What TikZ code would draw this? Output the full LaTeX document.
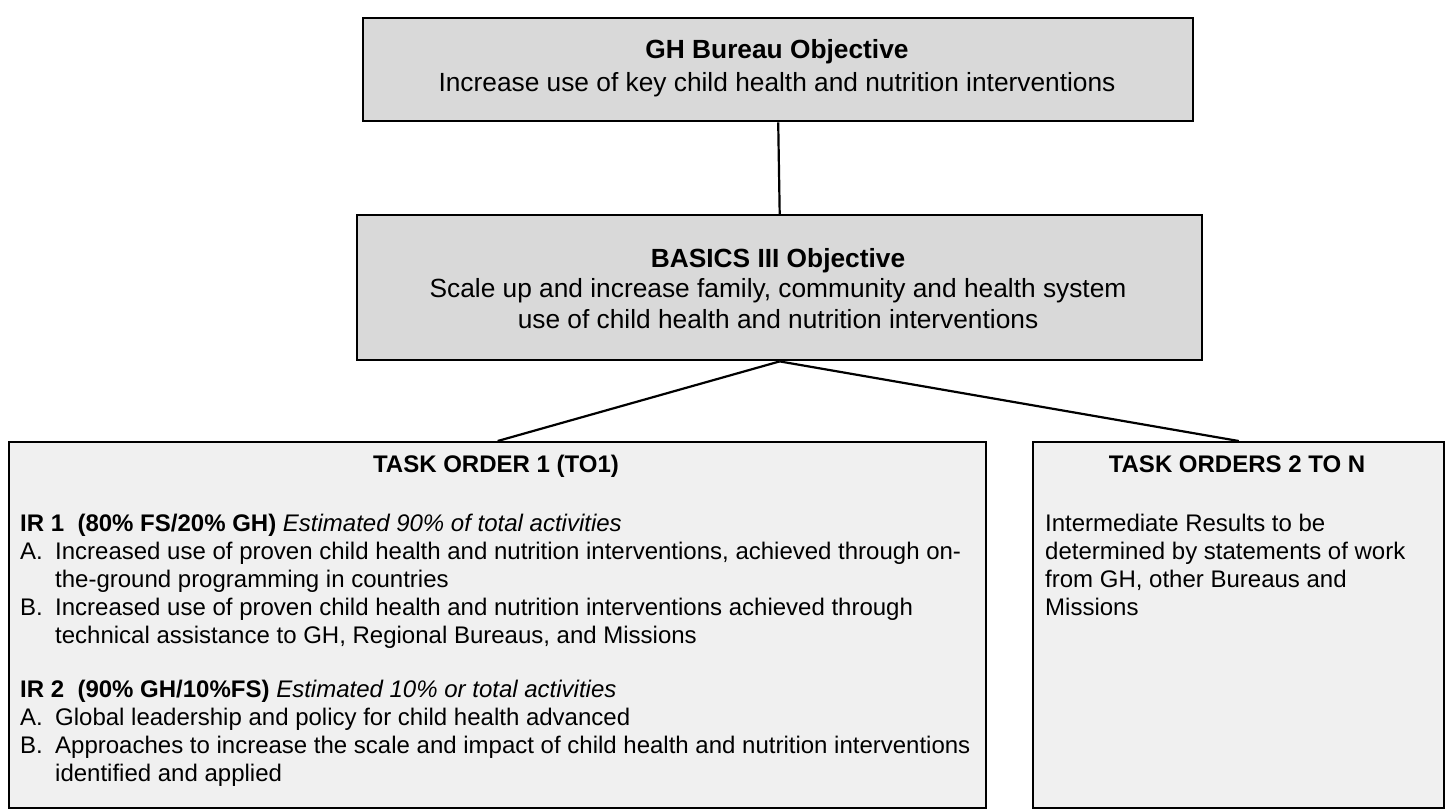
\documentclass[tikz,border=0pt]{standalone}
\usepackage{fontspec}
\setmainfont{Liberation Sans}
\newcommand\myfs{\fontsize{24}{28}\selectfont}
\newcommand\bigfs{\fontsize{26.3}{30}\selectfont}
\definecolor{topfill}{gray}{0.85}
\definecolor{botfill}{gray}{0.94}
\begin{document}
\begin{tikzpicture}[x=1pt,y=-1pt,
  box/.style={draw, line width=2.4pt, inner sep=0pt, anchor=north west},
  conn/.style={line width=2.2pt},
  txt/.style={font=\myfs, inner sep=0pt},
  ttl/.style={font=\myfs\bfseries, inner sep=0pt, anchor=base},
  btxt/.style={font=\bigfs, inner sep=0pt, anchor=base},
  bttl/.style={font=\bigfs\bfseries, inner sep=0pt, anchor=base}]
\useasboundingbox (0,0) rectangle (1448,809);
% boxes
\node[box, fill=topfill, minimum width=830pt, minimum height=103pt] (gh) at (362,17) {};
\node[box, fill=topfill, minimum width=845pt, minimum height=145pt] (basics) at (356,214) {};
\node[box, fill=botfill, minimum width=977pt, minimum height=366pt] (to1) at (8,441) {};
\node[box, fill=botfill, minimum width=411pt, minimum height=366pt] (ton) at (1032,441) {};
% connectors
\draw[conn] (gh.south) -- (basics.north);
\draw[conn] (basics.south) -- (to1.north);
\draw[conn] (basics.south) -- (ton.north);
% top box text
\node[bttl] (ghT) at (777,58) {GH Bureau Objective};
\node[btxt] (ghS) at (777,91) {Increase use of key child health and nutrition interventions};
% second box text
\node[bttl] (bT) at (778,267) {BASICS III Objective};
\node[btxt] (bS1) at (778,297) {Scale up and increase family, community and health system};
\node[btxt] (bS2) at (778,328) {use of child health and nutrition interventions};
% task order 1
\node[ttl] (t1T) at (496,472) {TASK ORDER 1 (TO1)};
\node[txt, anchor=base west] (ir1) at (20,531) {\textbf{IR 1\ \ (80\% FS/20\% GH)} \textit{Estimated 90\% of total activities}};
\node[txt, anchor=base west] (ir1aL) at (20,559) {A.};
\node[txt, anchor=base west] (ir1a) at (55,559) {Increased use of proven child health and nutrition interventions, achieved through on-};
\node[txt, anchor=base west] (ir1a2) at (55,587) {the-ground programming in countries};
\node[txt, anchor=base west] (ir1bL) at (20,615) {B.};
\node[txt, anchor=base west] (ir1b) at (55,615) {Increased use of proven child health and nutrition interventions achieved through};
\node[txt, anchor=base west] (ir1b2) at (55,643) {technical assistance to GH, Regional Bureaus, and Missions};
\node[txt, anchor=base west] (ir2) at (20,697) {\textbf{IR 2\ \ (90\% GH/10\%FS)} \textit{Estimated 10\% or total activities}};
\node[txt, anchor=base west] (ir2aL) at (20,725) {A.};
\node[txt, anchor=base west] (ir2a) at (55,725) {Global leadership and policy for child health advanced};
\node[txt, anchor=base west] (ir2bL) at (20,753) {B.};
\node[txt, anchor=base west] (ir2b) at (55,753) {Approaches to increase the scale and impact of child health and nutrition interventions};
\node[txt, anchor=base west] (ir2b2) at (55,781) {identified and applied};
% task orders 2 to n
\node[ttl] (tnT) at (1237,472) {TASK ORDERS 2 TO N};
\node[txt, anchor=base west] (tn1) at (1045,531) {Intermediate Results to be};
\node[txt, anchor=base west] (tn2) at (1045,559) {determined by statements of work};
\node[txt, anchor=base west] (tn3) at (1045,587) {from GH, other Bureaus and};
\node[txt, anchor=base west] (tn4) at (1045,615) {Missions};
\end{tikzpicture}
\end{document}
